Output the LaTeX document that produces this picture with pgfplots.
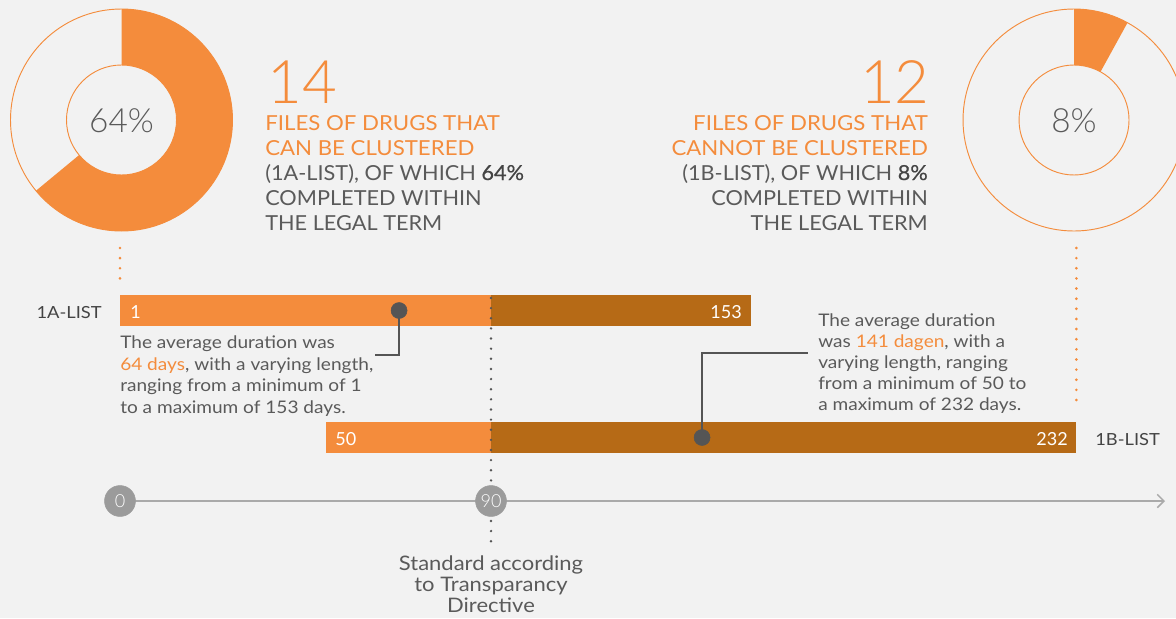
\documentclass[border=0pt]{standalone}
\usepackage{pgfplots}
\pgfplotsset{compat=1.18}
\usepackage{fontspec}
\setmainfont{Lato}
\newfontfamily\lightfont{Lato Light}
\newfontfamily\ttlfont{Lato}[FakeStretch=1.05]
\newfontfamily\ttofont{Lato}[FakeStretch=1.075]
\newfontfamily\medfont{Lato}[FakeStretch=1.05, FakeBold=0.6]
\newfontfamily\annfont{Lato}[FakeStretch=1.10]
\usetikzlibrary{arrows.meta}
\definecolor{bg}{HTML}{F2F2F2}
\definecolor{org}{HTML}{F48C3C}
\definecolor{brn}{HTML}{B66A16}
\definecolor{txt}{HTML}{5A5A5A}
\definecolor{dark}{HTML}{444444}
\definecolor{dotc}{HTML}{555555}
\definecolor{axg}{HTML}{9B9B9B}
\definecolor{axl}{HTML}{AAAAAA}
\newcommand{\ttl}{\ttlfont\fontsize{15.5}{18}\selectfont}
\newcommand{\tto}{\ttofont\fontsize{15.5}{18}\selectfont}
\newcommand{\ann}{\annfont\fontsize{13}{15}\selectfont}
\begin{document}
\begin{tikzpicture}
\fill[bg] (0,0) rectangle (882pt,463.5pt);
\begin{axis}[
  width=882pt, height=463.5pt, scale only axis,
  xmin=-29.11, xmax=256.17, ymin=0, ymax=618, y dir=reverse,
  hide axis, clip=false,
]
% ---- donuts (64% and 8%)
\def\Ro{83.25pt}\def\Ri{41.25pt}
\fill[org] (axis cs:0.364,120) ++(90:\Ro) arc[start angle=90, end angle=-140.4, radius=\Ro] -- ++(-140.4:-42pt) arc[start angle=-140.4, end angle=90, radius=\Ri] -- cycle;
\draw[org, line width=0.7pt] (axis cs:0.364,120) circle[radius=\Ro];
\draw[org, line width=0.7pt] (axis cs:0.364,120) circle[radius=\Ri];
\fill[org] (axis cs:231.43,120) ++(90:\Ro) arc[start angle=90, end angle=61.2, radius=\Ro] -- ++(61.2:-42pt) arc[start angle=61.2, end angle=90, radius=\Ri] -- cycle;
\draw[org, line width=0.7pt] (axis cs:231.43,120) circle[radius=\Ro];
\draw[org, line width=0.7pt] (axis cs:231.43,120) circle[radius=\Ri];
\node[txt, font=\lightfont\fontsize{25}{28}\selectfont, anchor=center] at (axis cs:0.364,121) {64\%};
\node[txt, font=\lightfont\fontsize{25}{28}\selectfont, anchor=center] at (axis cs:231.43,121) {8\%};
% ---- headline texts
\begin{scope}[every node/.style={inner sep=0pt}]
\node[org, font=\lightfont\fontsize{45}{50}\selectfont, anchor=base west] at (axis cs:35.66,103) {14};
\node[org, font=\tto, anchor=base west] at (axis cs:35.18,130) {FILES OF DRUGS THAT};
\node[org, font=\tto, anchor=base west] at (axis cs:35.18,155) {CAN BE CLUSTERED};
\node[txt, font=\ttl, anchor=base west] at (axis cs:35.18,180) {(1A-LIST), OF WHICH {\color{dark}\medfont 64\%}};
\node[txt, font=\ttl, anchor=base west] at (axis cs:35.18,205) {COMPLETED WITHIN};
\node[txt, font=\ttl, anchor=base west] at (axis cs:35.18,230) {THE LEGAL TERM};
\node[org, font=\lightfont\fontsize{45}{50}\selectfont, anchor=base east] at (axis cs:196.5,103) {12};
\node[org, font=\tto, anchor=base east] at (axis cs:196.01,130) {FILES OF DRUGS THAT};
\node[org, font=\tto, anchor=base east] at (axis cs:196.01,155) {CANNOT BE CLUSTERED};
\node[txt, font=\ttl, anchor=base east] at (axis cs:196.01,180) {(1B-LIST), OF WHICH {\color{dark}\medfont 8\%}};
\node[txt, font=\ttl, anchor=base east] at (axis cs:196.01,205) {COMPLETED WITHIN};
\node[txt, font=\ttl, anchor=base east] at (axis cs:196.01,230) {THE LEGAL TERM};
\end{scope}
% ---- orange dotted connectors
\addplot[org, line width=2.2pt, line cap=round, dash pattern=on 0pt off 7.6pt] coordinates {(0,248) (0,280)};
\addplot[org, line width=2.2pt, line cap=round, dash pattern=on 0pt off 7.6pt] coordinates {(232,248) (232,405)};
% ---- bars (days)
\addplot[fill=org, draw=none] coordinates {(0,295) (90,295) (90,326) (0,326)} -- cycle;
\addplot[fill=brn, draw=none] coordinates {(90,295) (153,295) (153,326) (90,326)} -- cycle;
\addplot[fill=org, draw=none] coordinates {(50,422) (90,422) (90,453) (50,453)} -- cycle;
\addplot[fill=brn, draw=none] coordinates {(90,422) (232,422) (232,453) (90,453)} -- cycle;
% ---- standard line at 90 days
\addplot[dotc, line width=2pt, line cap=round, dash pattern=on 0pt off 7.6pt] coordinates {(90,298) (90,546)};
% ---- callout lines
\addplot[dotc, line width=0.9pt] coordinates {(67.7,310.5) (67.7,355) (61.86,355)};
\addplot[dotc, line width=0.9pt] coordinates {(141.2,437.5) (141.2,353) (166.9,353)};
\addplot[only marks, mark=*, mark size=6pt, dotc, mark options={draw=dotc, fill=dotc}] coordinates {(67.7,310.5) (141.2,437.5)};
% ---- time axis
\addplot[axl, line width=1.1pt, -{Straight Barb[length=5pt, width=10pt]}] coordinates {(0,501) (253.5,501)};
\addplot[only marks, mark=*, mark size=11.6pt, mark options={draw=axg, fill=axg},
  nodes near coords, point meta=explicit symbolic, nodes near coords align=center,
  every node near coord/.append style={text=white, font=\lightfont\fontsize{13.5}{15}\selectfont, inner sep=0pt}]
  coordinates {(0,501) [0] (90,501) [90]};
% ---- bar labels
\begin{scope}[every node/.style={inner sep=0pt}]
\node[white, font=\fontsize{13.5}{15}\selectfont, anchor=base west] at (axis cs:2.43,318) {1};
\node[white, font=\fontsize{13.5}{15}\selectfont, anchor=base east] at (axis cs:150.9,318) {153};
\node[white, font=\fontsize{13.5}{15}\selectfont, anchor=base west] at (axis cs:52.2,445) {50};
\node[white, font=\fontsize{13.5}{15}\selectfont, anchor=base east] at (axis cs:229.97,445) {232};
\node[dark, font=\annfont\fontsize{12.5}{15}\selectfont, anchor=base east] at (axis cs:-4.37,318) {1A-LIST};
\node[dark, font=\annfont\fontsize{12.5}{15}\selectfont, anchor=base west] at (axis cs:236.52,445) {1B-LIST};
% annotation 1
\node[txt, font=\ann, anchor=base west] at (axis cs:0,348) {The average duration was};
\node[txt, font=\ann, anchor=base west] at (axis cs:0,370) {\textcolor{org}{64 days}, with a varying length,};
\node[txt, font=\ann, anchor=base west] at (axis cs:0,391) {ranging from a minimum of 1};
\node[txt, font=\ann, anchor=base west] at (axis cs:0,413) {to a maximum of 153 days.};
% annotation 2
\node[txt, font=\ann, anchor=base west] at (axis cs:169.33,326) {The average duration};
\node[txt, font=\ann, anchor=base west] at (axis cs:169.33,347) {was \textcolor{org}{141 dagen}, with a};
\node[txt, font=\ann, anchor=base west] at (axis cs:169.33,368) {varying length, ranging};
\node[txt, font=\ann, anchor=base west] at (axis cs:169.33,389) {from a minimum of 50 to};
\node[txt, font=\ann, anchor=base west] at (axis cs:169.33,410) {a maximum of 232 days.};
% standard label
\node[txt, font=\annfont\fontsize{15}{16}\selectfont, anchor=base] at (axis cs:90,570) {Standard according};
\node[txt, font=\annfont\fontsize{15}{16}\selectfont, anchor=base] at (axis cs:90,591) {to Transparancy};
\node[txt, font=\annfont\fontsize{15}{16}\selectfont, anchor=base] at (axis cs:90,612) {Directive};
\end{scope}
\end{axis}
\pgfresetboundingbox
\path[use as bounding box] (0,0) rectangle (882pt,463.5pt);
\end{tikzpicture}
\end{document}
